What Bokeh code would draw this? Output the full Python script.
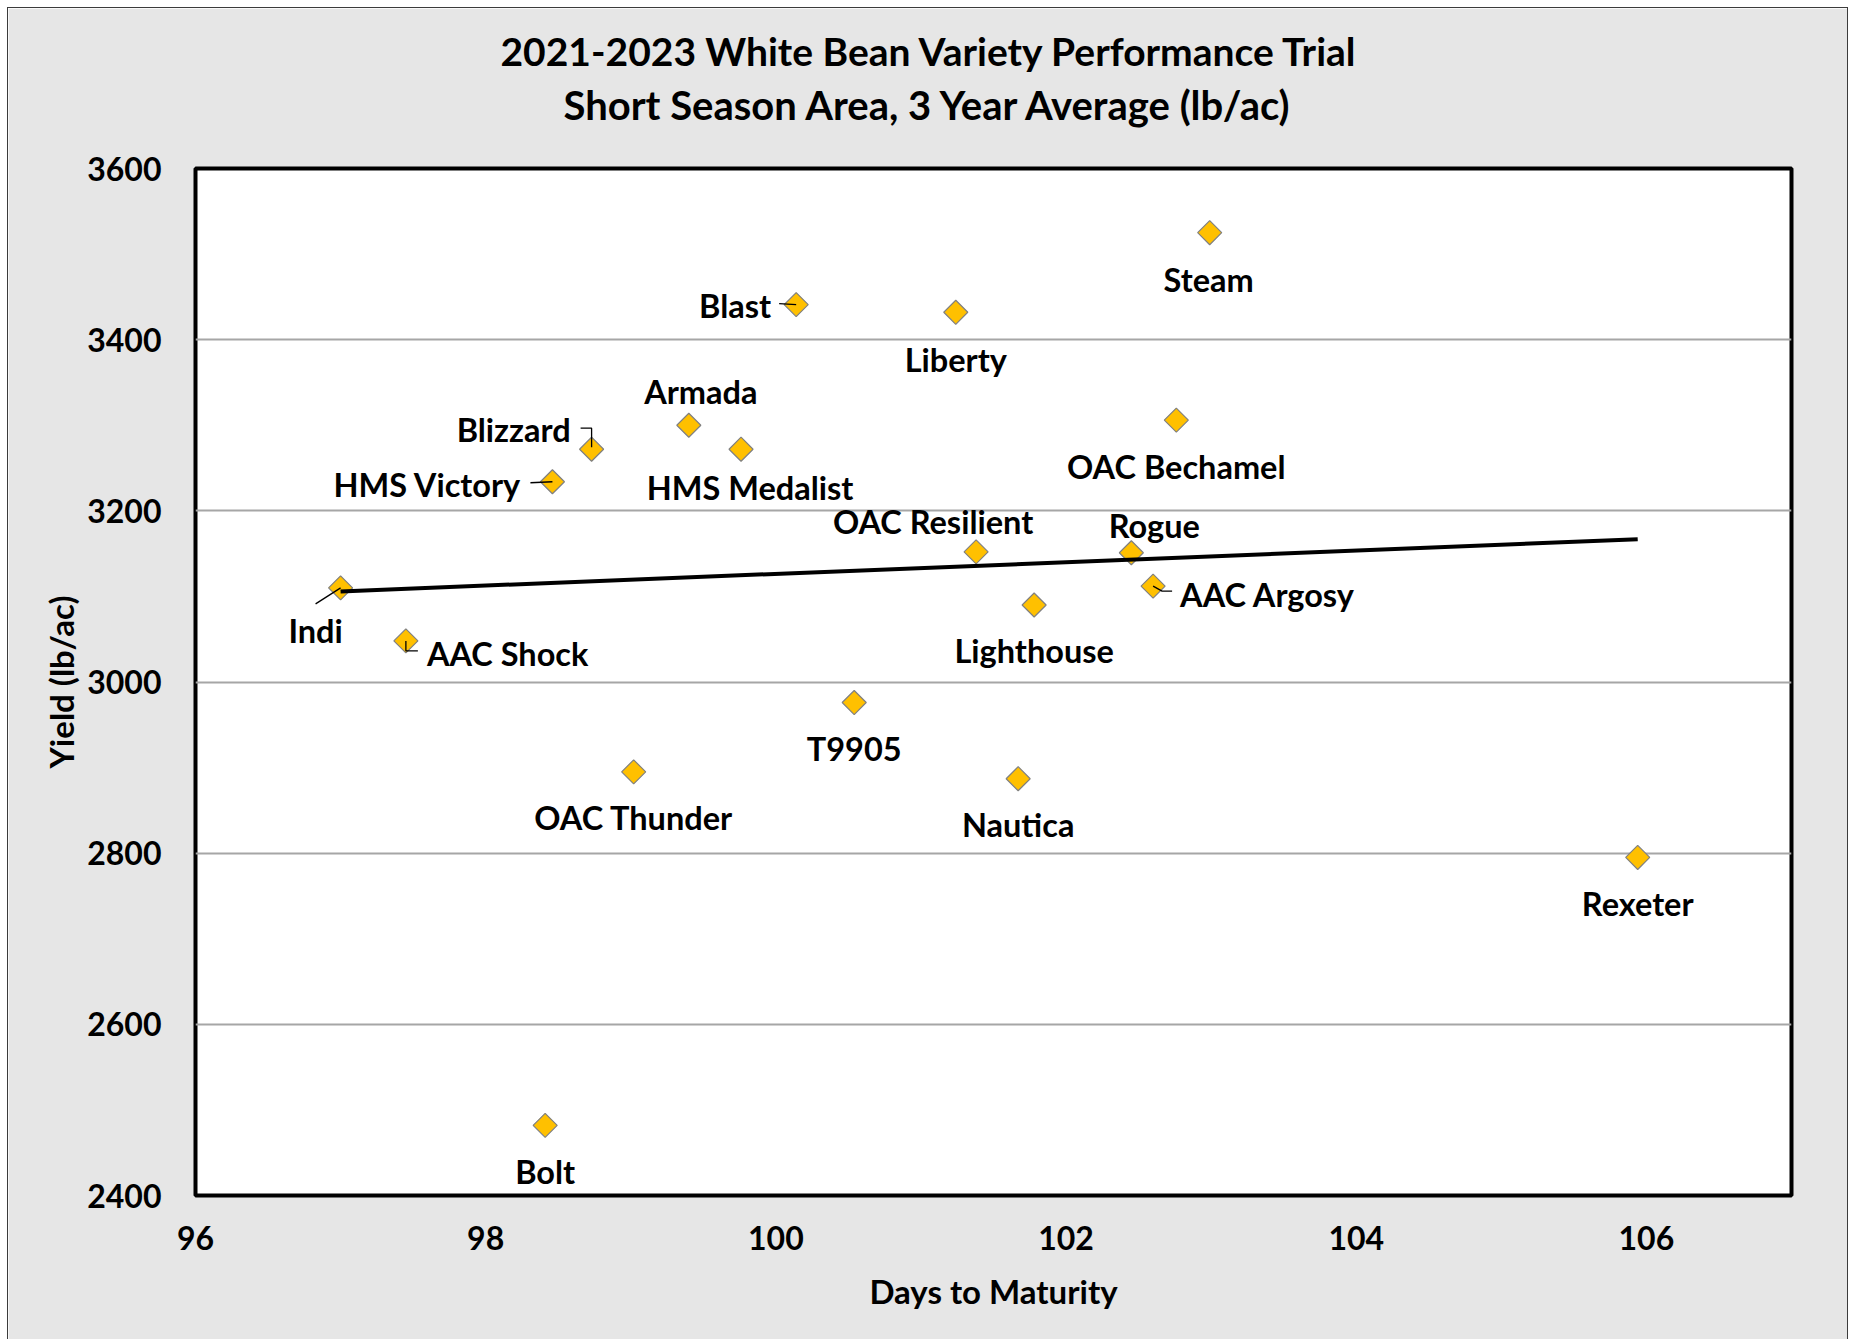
import numpy as np
from bokeh.plotting import figure
from bokeh.models import ColumnDataSource, Range1d, FixedTicker, Title
from bokeh.core.properties import value
from bokeh.embed import file_html
from bokeh.resources import INLINE

# ---------------- data ----------------
varieties = ["Indi", "AAC Shock", "Bolt", "HMS Victory", "Blizzard", "OAC Thunder",
             "Armada", "HMS Medalist", "Blast", "T9905", "Liberty", "OAC Resilient",
             "Nautica", "Lighthouse", "Rogue", "AAC Argosy", "OAC Bechamel", "Steam",
             "Rexeter"]
days = [97.0, 97.45, 98.41, 98.46, 98.73, 99.02, 99.40, 99.76, 100.14, 100.54,
        101.24, 101.38, 101.67, 101.78, 102.45, 102.60, 102.76, 102.99, 105.94]
yields = [3110, 3048, 2482, 3234, 3272, 2895, 3300, 3272, 3441, 2976,
          3432, 3152, 2887, 3090, 3151, 3112, 3306, 3525, 2795]

x_ticks = [96, 98, 100, 102, 104, 106]
y_ticks = [2400, 2600, 2800, 3000, 3200, 3400, 3600]

title_1 = "2021-2023 White Bean Variety Performance Trial"
title_2 = "Short Season Area, 3 Year Average (lb/ac)"
x_title = "Days to Maturity"
y_title = "Yield (lb/ac)"

# ---------------- label placement (screen px, y down) ----------------
label_style = {
    "Indi": ("center", -25, 43),
    "AAC Shock": ("left", 21, 13),
    "Bolt": ("center", 0, 46),
    "HMS Victory": ("right", -31, 3),
    "Blizzard": ("right", -21, -20),
    "OAC Thunder": ("center", 0, 46),
    "Armada": ("center", 12, -34),
    "HMS Medalist": ("center", 9, 38),
    "Blast": ("right", -25, 1),
    "T9905": ("center", 0, 46),
    "Liberty": ("center", 0, 47),
    "OAC Resilient": ("center", -43, -30),
    "Nautica": ("center", 0, 46),
    "Lighthouse": ("center", 0, 46),
    "Rogue": ("center", 23, -27),
    "AAC Argosy": ("left", 27, 8),
    "OAC Bechamel": ("center", 0, 46),
    "Steam": ("center", -1, 47),
    "Rexeter": ("center", 0, 46),
}
leaders = {
    "Blast": [(-17, -1), (0, 0)],
    "Blizzard": [(-11, -21), (0, -21), (0, -2)],
    "HMS Victory": [(-22, 1), (0, 0)],
    "Indi": [(-25, 16), (0, 0)],
    "AAC Shock": [(0, 0), (0, 10), (12, 10)],
    "AAC Argosy": [(0, 0), (9, 5), (19, 5)],
}

X0, X1 = 96, 107
Y0, Y1 = 2400, 3600
W, H = 1841, 1332
BL, BR, BT, BB = 187, 58, 160, 145
FW, FH = W - BL - BR, H - BT - BB
px_x = FW / (X1 - X0)
px_y = FH / (Y1 - Y0)

FONT = "Lato"
GOLD = "#FFC000"

p = figure(width=W, height=H, output_backend="svg", toolbar_location=None,
           x_range=Range1d(X0, X1), y_range=Range1d(Y0, Y1),
           min_border_left=BL, min_border_right=BR, min_border_top=BT,
           min_border_bottom=BB)
p.styles = {"margin-left": "7px", "margin-top": "7px",
            "border-left": "1px solid #3c3c3c", "border-top": "1px solid #3c3c3c",
            "border-right": "1px solid #3c3c3c"}

p.background_fill_color = "white"
p.border_fill_color = "#e6e6e6"
p.outline_line_color = "black"
p.outline_line_width = 4

# two-line chart title (spacer first = closest to the frame)
p.add_layout(Title(text=" ", text_font=FONT, text_font_size="10px", standoff=23), "above")
p.add_layout(Title(text=title_2, text_font=FONT, text_font_size="40px",
                   text_font_style="bold", align="left", offset=368,
                   text_color="black", standoff=6), "above")
p.add_layout(Title(text=title_1, text_font=FONT, text_font_size="39px",
                   text_font_style="bold", align="left", offset=305,
                   text_color="black", standoff=4), "above")

p.xgrid.grid_line_color = None
p.ygrid.grid_line_color = "#a6a6a6"
p.ygrid.grid_line_width = 2
p.xaxis.ticker = FixedTicker(ticks=x_ticks)
p.yaxis.ticker = FixedTicker(ticks=y_ticks)
for ax in (p.xaxis[0], p.yaxis[0]):
    ax.axis_line_color = None
    ax.major_tick_line_color = None
    ax.minor_tick_line_color = None
    ax.major_tick_out = 0
    ax.minor_tick_out = 0
    ax.major_label_text_font = FONT
    ax.major_label_text_font_size = "32px"
    ax.major_label_text_font_style = "bold"
    ax.major_label_text_color = "black"
    ax.axis_label_text_font = FONT
    ax.axis_label_text_font_size = "33px"
    ax.axis_label_text_font_style = "bold"
    ax.axis_label_text_color = "black"
p.xaxis.axis_label = x_title
p.yaxis.axis_label = y_title
p.yaxis.major_label_standoff = 34
p.xaxis.major_label_standoff = 30
p.yaxis.axis_label_standoff = 3
p.xaxis.axis_label_standoff = 18

# markers
src = ColumnDataSource(dict(x=days, y=yields, name=varieties))
p.scatter("x", "y", source=src, marker="square", angle=np.pi / 4, size=17,
          fill_color=GOLD, line_color="#808080", line_width=1.2)

# trend line (least squares fit of the data)
slope, intercept = np.polyfit(days, yields, 1)
tx = [min(days), max(days)]
p.line(tx, [slope * v + intercept for v in tx], line_color="black", line_width=4)

# leader lines
lx, ly = [], []
for i, n in enumerate(varieties):
    if n in leaders:
        lx.append([days[i] + dx / px_x for dx, dy in leaders[n]])
        ly.append([yields[i] - dy / px_y for dx, dy in leaders[n]])
p.multi_line(lx, ly, line_color="black", line_width=1.3)

# labels
for align in ("center", "left", "right"):
    idx = [i for i, n in enumerate(varieties) if label_style[n][0] == align]
    s = ColumnDataSource(dict(
        x=[days[i] for i in idx], y=[yields[i] for i in idx],
        t=[varieties[i] for i in idx],
        xo=[label_style[varieties[i]][1] for i in idx],
        yo=[label_style[varieties[i]][2] for i in idx]))
    p.text("x", "y", text="t", source=s, x_offset="xo", y_offset="yo",
           text_align=align, text_baseline="middle", text_font=value(FONT),
           text_font_size="32.5px", text_font_style="bold", text_color="black")

open("out.html", "w").write(file_html(p, INLINE))
